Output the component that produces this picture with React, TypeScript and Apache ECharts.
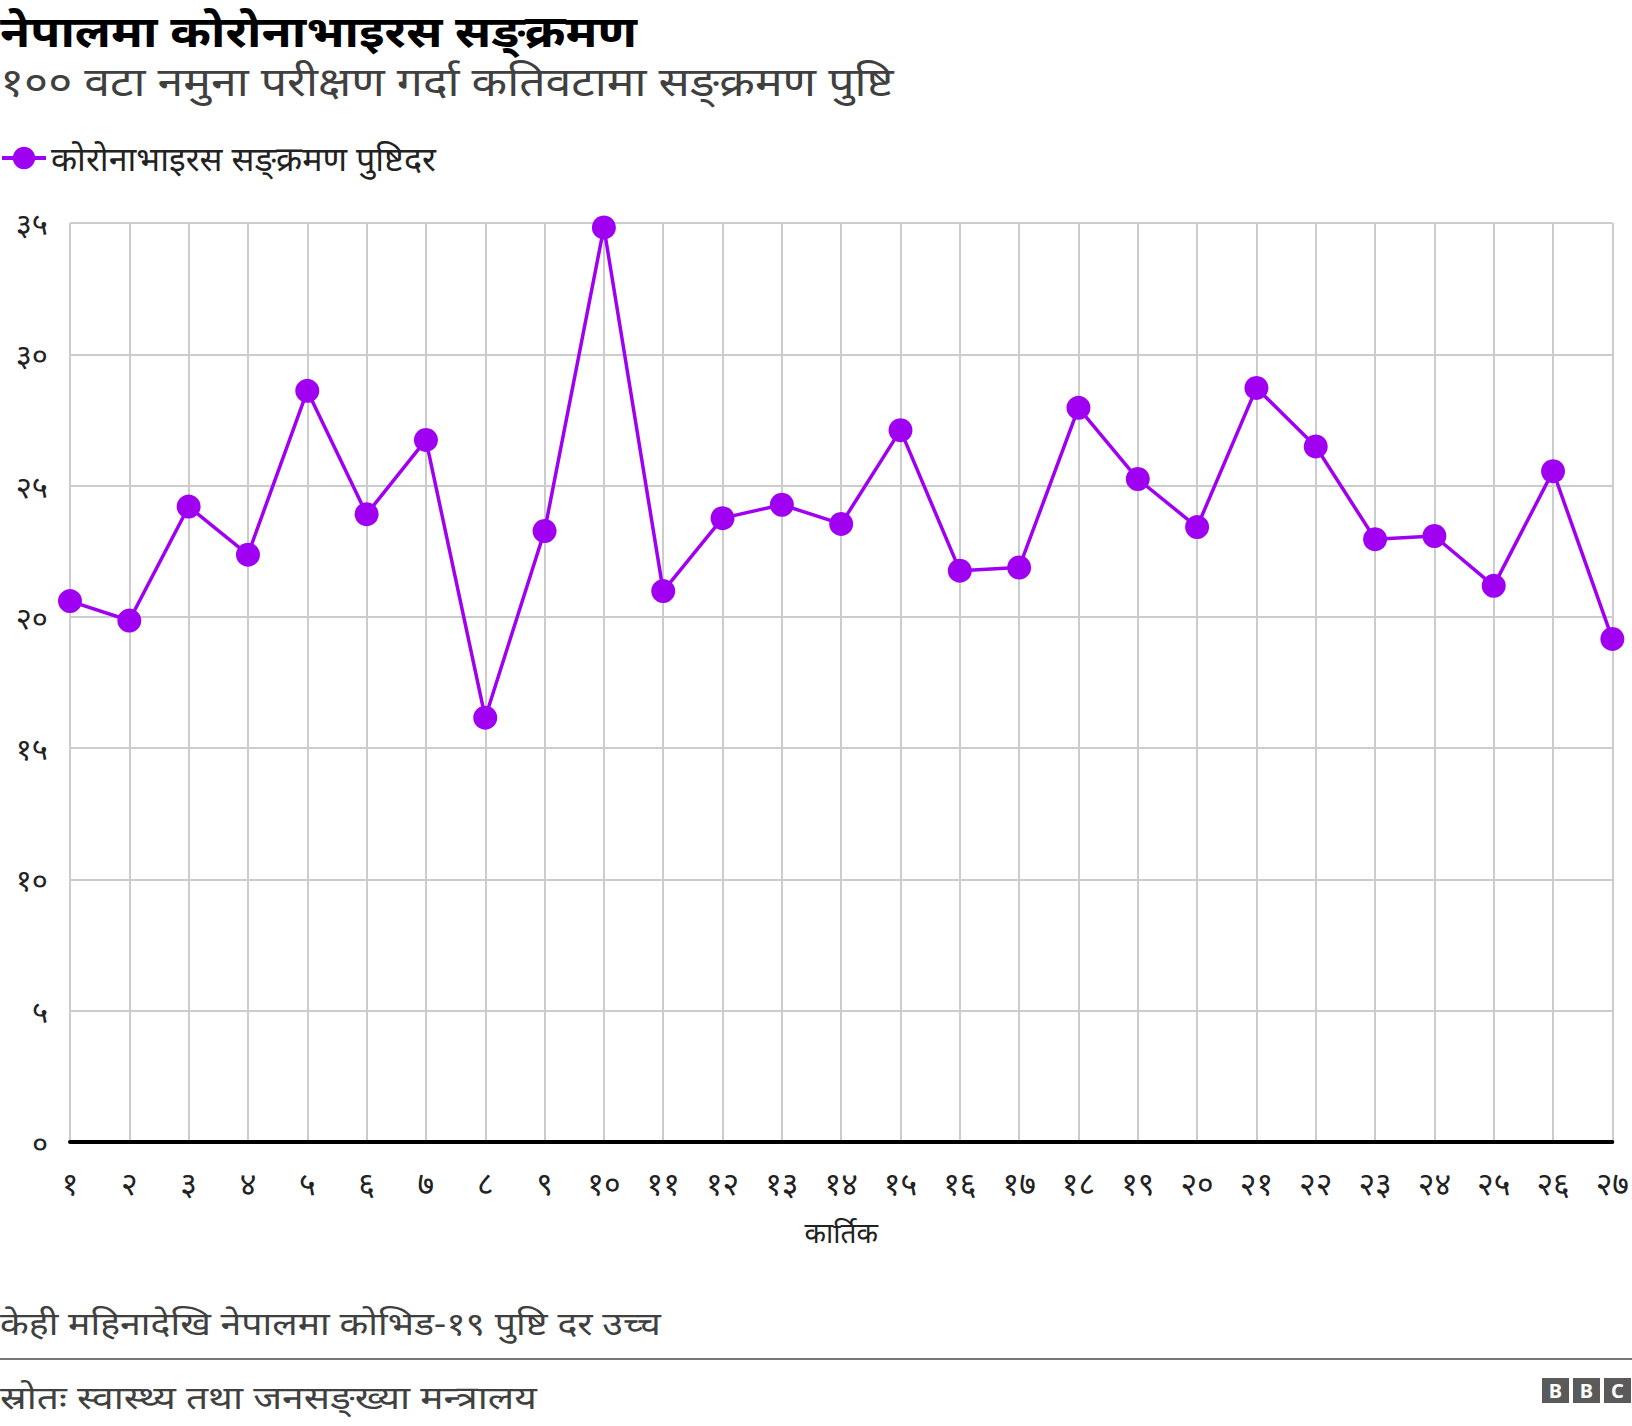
import React, { useEffect, useRef } from "react";
import * as echarts from "echarts";

const categories = [
  "१", "२", "३", "४", "५", "६", "७", "८", "९", "१०", "११", "१२", "१३", "१४",
  "१५", "१६", "१७", "१८", "१९", "२०", "२१", "२२", "२३", "२४", "२५", "२६", "२७",
];

const positivityRate = [
  20.6, 19.86, 24.2, 22.37, 28.61, 23.91, 26.74, 16.16, 23.27, 34.83, 20.98, 23.76, 24.27, 23.54,
  27.11, 21.76, 21.88, 27.96, 25.25, 23.42, 28.72, 26.49, 22.96, 23.08, 21.18, 25.55, 19.16,
];

const yTickValues = [0, 5, 10, 15, 20, 25, 30, 35];
const yTickLabels = ["०", "५", "१०", "१५", "२०", "२५", "३०", "३५"];

const titleText = "नेपालमा कोरोनाभाइरस सङ्क्रमण";
const subtitleText = "१०० वटा नमुना परीक्षण गर्दा कतिवटामा सङ्क्रमण पुष्टि";
const seriesName = "कोरोनाभाइरस सङ्क्रमण पुष्टिदर";
const xAxisName = "कार्तिक";
const noteText = "केही महिनादेखि नेपालमा कोभिड-१९ पुष्टि दर उच्च";
const sourceText = "स्रोतः स्वास्थ्य तथा जनसङ्ख्या मन्त्रालय";

const FONT = "'Noto Sans', sans-serif";
const PURPLE = "#a000f2";

function fitScale(text: string, font: string, target: number): number {
  try {
    const c = document.createElement("canvas");
    const ctx = c.getContext("2d");
    if (!ctx) return 1;
    ctx.font = font;
    const w = ctx.measureText(text).width;
    return w > 0 ? target / w : 1;
  } catch (e) {
    return 1;
  }
}

export default function App() {
  const ref = useRef<HTMLDivElement>(null);

  useEffect(() => {
    document.body.style.margin = "0";
    if (!ref.current) return;
    const chart = echarts.init(ref.current, undefined, { renderer: "svg" });

    const titleFont = `bold 44px ${FONT}`;
    const subFont = `40px ${FONT}`;
    const noteFont = `32px ${FONT}`;

    const option = {
      animation: false,
      backgroundColor: "#ffffff",
      textStyle: { fontFamily: FONT },
      legend: {
        left: 0,
        top: 141,
        padding: 0,
        itemWidth: 44,
        itemHeight: 28,
        itemGap: 20,
        lineStyle: { width: 4 },
        textStyle: { fontSize: 34, color: "#222222", fontFamily: FONT },
        data: [seriesName],
      },
      grid: { left: 70, right: 19, top: 223, bottom: 284, containLabel: false },
      xAxis: {
        type: "category",
        data: categories,
        boundaryGap: false,
        name: xAxisName,
        nameLocation: "middle",
        nameGap: 76,
        nameTextStyle: { fontSize: 28, color: "#222222", fontFamily: FONT },
        axisLine: { show: true, lineStyle: { color: "#000000", width: 4 } },
        axisTick: { show: false },
        axisLabel: { fontSize: 32, color: "#222222", margin: 24, interval: 0, fontFamily: FONT },
        splitLine: { show: true, interval: 0, lineStyle: { color: "#cccccc", width: 2 } },
        z: 3,
      },
      yAxis: {
        type: "value",
        min: 0,
        max: 35,
        interval: 5,
        axisLine: { show: false },
        axisTick: { show: false },
        axisLabel: {
          fontSize: 31,
          color: "#222222",
          margin: 22,
          fontFamily: FONT,
          formatter: (v: number) => {
            const i = yTickValues.indexOf(v);
            return i >= 0 ? yTickLabels[i] : String(v);
          },
        },
        splitLine: { show: true, lineStyle: { color: "#cccccc", width: 2 } },
      },
      series: [
        {
          name: seriesName,
          type: "line",
          data: positivityRate,
          symbol: "circle",
          symbolSize: 24,
          lineStyle: { color: PURPLE, width: 3.5 },
          itemStyle: { color: PURPLE },
          z: 5,
        },
      ],
      graphic: [
        {
          type: "text",
          x: 0,
          y: 8,
          scaleX: fitScale(titleText, titleFont, 637),
          style: { text: titleText, font: titleFont, fill: "#000000" },
        },
        {
          type: "text",
          x: 0,
          y: 61,
          scaleX: fitScale(subtitleText, subFont, 894),
          style: { text: subtitleText, font: subFont, fill: "#404040" },
        },
        {
          type: "text",
          x: 0,
          y: 1307,
          scaleX: fitScale(noteText, noteFont, 661),
          style: { text: noteText, font: noteFont, fill: "#404040" },
        },
        {
          type: "rect",
          shape: { x: 0, y: 1358, width: 1632, height: 2 },
          style: { fill: "#777777" },
        },
        {
          type: "text",
          x: 0,
          y: 1380,
          scaleX: fitScale(sourceText, noteFont, 537),
          style: { text: sourceText, font: noteFont, fill: "#404040" },
        },
        {
          type: "group",
          x: 1542,
          y: 1378,
          children: [
            { type: "rect", shape: { x: 0, y: 0, width: 27, height: 25 }, style: { fill: "#5a5a5a" } },
            { type: "rect", shape: { x: 31, y: 0, width: 27, height: 25 }, style: { fill: "#5a5a5a" } },
            { type: "rect", shape: { x: 62, y: 0, width: 27, height: 25 }, style: { fill: "#5a5a5a" } },
            { type: "text", x: 13.5, y: 12.5, style: { text: "B", font: `bold 20px ${FONT}`, fill: "#ffffff", align: "center", verticalAlign: "middle" } },
            { type: "text", x: 44.5, y: 12.5, style: { text: "B", font: `bold 20px ${FONT}`, fill: "#ffffff", align: "center", verticalAlign: "middle" } },
            { type: "text", x: 75.5, y: 12.5, style: { text: "C", font: `bold 20px ${FONT}`, fill: "#ffffff", align: "center", verticalAlign: "middle" } },
          ],
        },
      ],
    };
    chart.setOption(option);
    return () => chart.dispose();
  }, []);

  return (
    <div
      ref={ref}
      style={{ position: "absolute", left: 0, top: 0, width: 1632, height: 1426 }}
    />
  );
}
